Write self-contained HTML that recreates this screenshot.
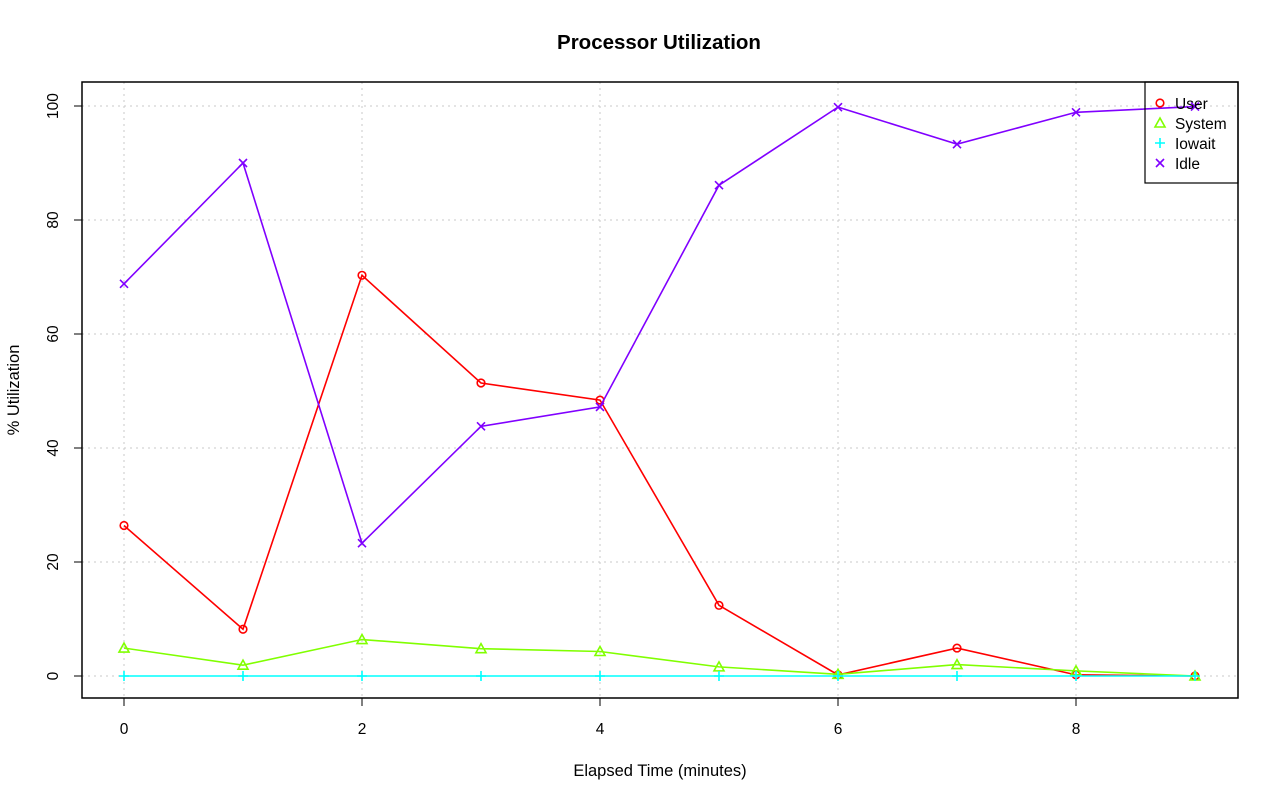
<!DOCTYPE html>
<html><head><meta charset="utf-8"><style>
html,body{margin:0;padding:0;background:#fff;}
svg{display:block;font-family:"Liberation Sans",Arial,sans-serif;}
</style></head><body>
<svg id="chart" width="1280" height="801" viewBox="0 0 1280 801">
<text x="659" y="49" text-anchor="middle" font-size="20.5" font-weight="bold">Processor Utilization</text>
<g id="grid"></g>
<g id="axes"></g>
<g id="series"></g>
<rect x="82" y="82" width="1156" height="616" fill="none" stroke="#000" stroke-width="1.5"/>
<text x="660" y="776" text-anchor="middle" font-size="16.5">Elapsed Time (minutes)</text>
<text transform="translate(19,390) rotate(-90)" text-anchor="middle" font-size="16.5">% Utilization</text>
<g id="legend"></g>
</svg>
<script>
const minutes=[0,1,2,3,4,5,6,7,8,9];
const userVals=[26.4,8.2,70.3,51.4,48.4,12.4,0.2,4.9,0.2,0];
const systemVals=[4.9,1.9,6.4,4.8,4.3,1.6,0.3,2.0,0.9,0];
const iowaitVals=[0,0,0,0,0,0,0,0,0,0];
const idleVals=[68.8,90.0,23.3,43.8,47.2,86.1,99.8,93.3,98.9,99.9];
const xTicks=[0,2,4,6,8];
const yTicks=[0,20,40,60,80,100];
const seriesNames=["User","System","Iowait","Idle"];

const NS="http://www.w3.org/2000/svg";
const xs=v=>124+v*119;
const ys=v=>676-v*5.7;
function mk(tag,attrs,parent){const e=document.createElementNS(NS,tag);for(const k in attrs)e.setAttribute(k,attrs[k]);parent.appendChild(e);return e;}
const grid=document.getElementById('grid'),axes=document.getElementById('axes'),ser=document.getElementById('series'),leg=document.getElementById('legend');

xTicks.forEach(t=>{
 const g=mk('line',{x1:xs(t),x2:xs(t),y1:82,y2:698,stroke:'#c8c8c8','stroke-dasharray':'2,4'},grid);
 
 
 const tk=mk('line',{x1:xs(t),x2:xs(t),y1:698,y2:706,stroke:'#000'},axes);
 
 
 const l=mk('text',{x:xs(t),y:734,'text-anchor':'middle','font-size':15.5},axes);l.textContent=t;
 
 
});
yTicks.forEach(t=>{
 const g=mk('line',{x1:82,x2:1238,y1:ys(t),y2:ys(t),stroke:'#c8c8c8','stroke-dasharray':'2,4'},grid);
 
 
 const tk=mk('line',{x1:74,x2:82,y1:ys(t),y2:ys(t),stroke:'#000'},axes);
 
 
 const l=mk('text',{transform:`translate(58,${ys(t)}) rotate(-90)`,'text-anchor':'middle','font-size':15.5},axes);l.textContent=t;
 
 
});

function marker(type,x,y,c,parent){
 const g=mk('g',{stroke:c,'stroke-width':1.6,fill:'none'},parent);
 if(type==='circle')mk('circle',{cx:x,cy:y,r:3.8},g);
 else if(type==='tri')mk('path',{d:`M${x-5},${y+4}L${x+5},${y+4}L${x},${y-5}Z`},g);
 else if(type==='plus')mk('path',{d:`M${x-5},${y}H${x+5}M${x},${y-5}V${y+5}`},g);
 else mk('path',{d:`M${x-4},${y-4}L${x+4},${y+4}M${x-4},${y+4}L${x+4},${y-4}`},g);
 return g;
}
const defs=[[userVals,'#ff0000','circle'],[systemVals,'#80ff00','tri'],[iowaitVals,'#00ffff','plus'],[idleVals,'#8000ff','x']];
defs.forEach(([vals,c,m],i)=>{
 const p=mk('polyline',{points:minutes.map((t,j)=>xs(t)+','+ys(vals[j])).join(' '),fill:'none',stroke:c,'stroke-width':1.6},ser);
 
 
 minutes.forEach((t,j)=>{
  const g=marker(m,xs(t),ys(vals[j]),c,ser);
  
  
 });
 const le=mk('g',{},leg);
 
 
 marker(m,1160,103+i*20,c,le);
 const tx=mk('text',{x:1175,y:109+i*20,'font-size':15.5},le);tx.textContent=seriesNames[i];
});
const lb=mk('rect',{x:1145,y:82,width:93,height:101,fill:'none',stroke:'#000','stroke-width':1.2},leg);


</script>
</body></html>
